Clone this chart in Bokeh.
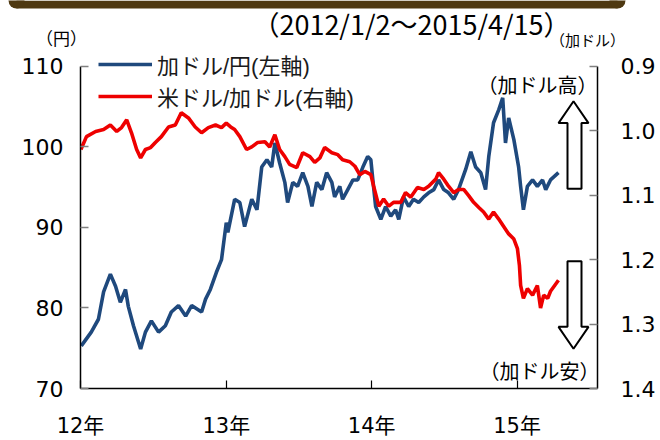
import pandas as pd
from bokeh.plotting import figure
from bokeh.layouts import column, row
from bokeh.models import (Range1d, LinearAxis, FixedTicker, Legend, LegendItem,
                          Label, ColumnDataSource, NumeralTickFormatter)
from bokeh.embed import file_html
from bokeh.resources import INLINE

# ---------------- data ----------------
cadjpy_dates = [
    "2012-01-03", "2012-01-28", "2012-02-15", "2012-02-28", "2012-03-16", "2012-03-29",
    "2012-04-10", "2012-04-23", "2012-04-30", "2012-05-13", "2012-05-31", "2012-06-12",
    "2012-06-27", "2012-07-15", "2012-08-01", "2012-08-16", "2012-09-03", "2012-09-21",
    "2012-10-06", "2012-10-31", "2012-11-10", "2012-11-22", "2012-12-07", "2012-12-20",
    "2013-01-01", "2013-01-05", "2013-01-22", "2013-02-04", "2013-02-16", "2013-03-06",
    "2013-03-19", "2013-03-31", "2013-04-13", "2013-04-25", "2013-05-03", "2013-05-15",
    "2013-05-28", "2013-06-04", "2013-06-17", "2013-06-29", "2013-07-12", "2013-07-25",
    "2013-08-04", "2013-08-16", "2013-08-29", "2013-09-10", "2013-09-23", "2013-09-30",
    "2013-10-13", "2013-10-20", "2013-11-02", "2013-11-15", "2013-11-27", "2013-12-10",
    "2013-12-22", "2013-12-30", "2014-01-04", "2014-01-11", "2014-01-24", "2014-02-05",
    "2014-02-18", "2014-03-02", "2014-03-10", "2014-03-22", "2014-04-04", "2014-04-16",
    "2014-04-29", "2014-05-12", "2014-05-24", "2014-06-06", "2014-06-18", "2014-07-01",
    "2014-07-13", "2014-07-26", "2014-08-07", "2014-08-25", "2014-09-07", "2014-09-19",
    "2014-10-02", "2014-10-14", "2014-10-22", "2014-11-03", "2014-11-16", "2014-11-26",
    "2014-12-03", "2014-12-11", "2014-12-24", "2015-01-05", "2015-01-10", "2015-01-17",
    "2015-01-27", "2015-02-09", "2015-02-21", "2015-03-06", "2015-03-14", "2015-03-26",
    "2015-04-15",
]
cadjpy_values = [
    75.3, 77.0, 78.6, 82.0, 84.2, 82.7,
    80.7, 82.3, 80.2, 77.8, 74.9, 77.0,
    78.4, 77.0, 77.8, 79.5, 80.3, 79.0,
    80.3, 79.5, 81.1, 82.3, 84.4, 86.0,
    90.6, 89.4, 93.5, 93.1, 90.1, 93.5,
    92.2, 97.5, 98.4, 97.5, 100.5, 98.0,
    95.6, 93.1, 95.6, 95.1, 96.8, 95.1,
    92.6, 95.6, 94.7, 96.8, 95.6, 93.8,
    95.1, 93.5, 94.7, 95.9, 95.9, 97.5,
    98.8, 98.4, 95.9, 92.6, 91.0, 92.6,
    91.4, 92.2, 91.0, 93.8, 92.6, 93.5,
    93.1, 93.8, 94.3, 94.7, 95.9, 94.7,
    94.3, 93.5, 94.7, 97.2, 99.4, 97.5,
    96.8, 94.7, 98.8, 103.0, 104.6, 106.1,
    100.5, 103.6, 100.9, 97.5, 95.1, 92.2,
    95.1, 95.9, 95.1, 95.9, 94.7, 95.9,
    96.8,
]

usdcad_dates = [
    "2012-01-02", "2012-01-16", "2012-02-08", "2012-02-28", "2012-03-16", "2012-04-01",
    "2012-04-13", "2012-04-26", "2012-05-08", "2012-05-21", "2012-05-31", "2012-06-12",
    "2012-06-25", "2012-07-07", "2012-07-22", "2012-08-09", "2012-08-26", "2012-09-10",
    "2012-09-28", "2012-10-15", "2012-10-31", "2012-11-17", "2012-12-05", "2012-12-20",
    "2013-01-01", "2013-01-12", "2013-01-22", "2013-02-04", "2013-02-21", "2013-03-06",
    "2013-03-21", "2013-04-08", "2013-04-20", "2013-05-03", "2013-05-15", "2013-05-28",
    "2013-06-09", "2013-06-27", "2013-07-12", "2013-07-30", "2013-08-11", "2013-08-24",
    "2013-09-05", "2013-09-23", "2013-10-08", "2013-10-20", "2013-11-07", "2013-11-20",
    "2013-12-02", "2013-12-15", "2013-12-30", "2014-01-06", "2014-01-19", "2014-01-31",
    "2014-02-13", "2014-02-25", "2014-03-15", "2014-03-27", "2014-04-09", "2014-04-26",
    "2014-05-12", "2014-05-24", "2014-06-11", "2014-06-18", "2014-07-01", "2014-07-13",
    "2014-07-26", "2014-08-07", "2014-08-20", "2014-09-02", "2014-09-14", "2014-09-27",
    "2014-10-09", "2014-10-22", "2014-11-03", "2014-11-16", "2014-11-28", "2014-12-11",
    "2014-12-24", "2015-01-02", "2015-01-07", "2015-01-10", "2015-01-17", "2015-01-27",
    "2015-02-09", "2015-02-21", "2015-03-01", "2015-03-09", "2015-03-19", "2015-03-26",
    "2015-04-15",
]
usdcad_values = [
    1.029, 1.009, 1.001, 0.998, 0.991, 1.001,
    0.995, 0.983, 1.003, 1.029, 1.042, 1.029,
    1.026, 1.018, 1.009, 0.994, 0.991, 0.972,
    0.980, 0.994, 1.003, 0.995, 0.991, 0.995,
    0.988, 0.994, 0.998, 1.009, 1.029, 1.025,
    1.018, 1.017, 1.025, 1.006, 1.029, 1.040,
    1.052, 1.057, 1.034, 1.040, 1.049, 1.042,
    1.026, 1.034, 1.037, 1.045, 1.048, 1.055,
    1.068, 1.063, 1.068, 1.086, 1.117, 1.106,
    1.117, 1.111, 1.111, 1.096, 1.103, 1.088,
    1.091, 1.086, 1.075, 1.065, 1.075, 1.086,
    1.096, 1.091, 1.091, 1.101, 1.111, 1.119,
    1.126, 1.137, 1.126, 1.137, 1.148, 1.160,
    1.168, 1.183, 1.209, 1.240, 1.260, 1.245,
    1.255, 1.240, 1.275, 1.255, 1.260, 1.249,
    1.232,
]

year_ticks = ["2012-01-01", "2013-01-01", "2014-01-01", "2015-01-01"]
year_labels = ["12年", "13年", "14年", "15年"]
yen_ticks = [70, 80, 90, 100, 110]
cad_ticks = [0.9, 1.0, 1.1, 1.2, 1.3, 1.4]
series_names = ["加ドル/円(左軸)", "米ドル/加ドル(右軸)"]
period_text = "（2012/1/2～2015/4/15）"
left_unit = "（円）"
right_unit = "（加ドル）"


def ms(s):
    return int(pd.Timestamp(s).value // 10**6)


W, H = 660, 440
HEAD = 50                       # page y where the plot box begins
FL, FR, FT, FB = 80, 597, 66, 390   # value 110..70 box on the page
X_START, X_END = ms("2012-01-01"), ms("2015-07-22")

PX_PER_YEN = (FB - FT) / 40.0
Y_TOP = 70 + (FB - HEAD) / PX_PER_YEN
CAD_TOP = 1.4 - (FB - HEAD) / (FB - FT) * 0.5


def fx(px):
    return X_START + (px - FL) / (FR - FL) * (X_END - X_START)


def fy(py):
    return 70 + (FB - py) / PX_PER_YEN


NUM_FONT = "'DejaVu Sans', 'Noto Sans CJK JP'"
JP_FONT = "'Noto Sans CJK JP'"
LEG_FONT = "'Liberation Sans', 'Noto Sans CJK JP'"
BROWN = "#4E3811"

# ---------------- header (band, period and unit labels), pixel coordinates ----
head = figure(width=W, height=HEAD, output_backend="svg", toolbar_location=None,
              x_range=Range1d(0, W), y_range=Range1d(HEAD, 0),
              x_axis_location=None, y_axis_location=None, title=None,
              min_border=0, outline_line_color=None,
              background_fill_color="white", border_fill_color="white")
head.grid.visible = False
head.quad(left=[16], right=[617], top=[0], bottom=[8], fill_color=BROWN, line_color=None)
head.circle(x=[16, 617], y=[0, 0], radius=8, fill_color=BROWN, line_color=None)


def head_text(txt, x, y, size):
    head.add_layout(Label(x=x, y=y, text=txt, text_align="center",
                          text_baseline="middle", text_font=JP_FONT,
                          text_font_size=size, text_color="black"))


head_text(period_text, 411, 23, "27px")
head_text(left_unit, 61, 37, "17px")
head_text(right_unit, 587, 38.5, "15px")

# ---------------- main chart ----------------
p = figure(width=W, height=H - HEAD, output_backend="svg", toolbar_location=None,
           x_range=Range1d(X_START, X_END), y_range=Range1d(70, Y_TOP), title=None,
           min_border_left=FL, min_border_right=W - FR, min_border_top=0,
           min_border_bottom=H - FB, outline_line_color=None,
           background_fill_color="white", border_fill_color="white")
p.grid.visible = False
p.extra_y_ranges = {"cad": Range1d(1.4, CAD_TOP)}

src_b = ColumnDataSource(dict(x=[ms(d) for d in cadjpy_dates], y=cadjpy_values))
src_r = ColumnDataSource(dict(x=[ms(d) for d in usdcad_dates], y=usdcad_values))
r_b = p.line("x", "y", source=src_b, line_color="#1F497D", line_width=3.6)
r_r = p.line("x", "y", source=src_r, line_color="#EE0000", line_width=3.6,
             y_range_name="cad")

xa = p.xaxis[0]
xa.ticker = FixedTicker(ticks=[ms(d) for d in year_ticks])
xa.major_label_overrides = {ms(d): lab for d, lab in zip(year_ticks, year_labels)}
xa.major_tick_line_color = "black"
xa.major_tick_line_width = 1.2

ya = p.yaxis[0]
ya.ticker = FixedTicker(ticks=yen_ticks)
ya.bounds = (70, 110)
ya.major_tick_line_color = "#808080"
ya.major_tick_line_width = 1.5
ya.major_label_standoff = 17

ra = LinearAxis(y_range_name="cad", ticker=FixedTicker(ticks=cad_ticks),
                formatter=NumeralTickFormatter(format="0.0"), bounds=(0.9, 1.4))
ra.major_tick_line_color = "#808080"
ra.major_tick_line_width = 1.5
ra.major_label_standoff = 23
p.add_layout(ra, "right")

for ax in (xa, ya, ra):
    ax.minor_tick_line_color = None
    ax.major_tick_in = 8
    ax.major_tick_out = 0
    ax.axis_line_width = 1.5
    ax.axis_line_color = "black"
    ax.major_label_text_font = NUM_FONT
    ax.major_label_text_font_size = "22px"
    ax.major_label_text_color = "black"

# the year labels: slightly smaller so they can sit lower under the axis
xa.major_label_text_font_size = "21px"
xa.major_label_standoff = 25

frame_h = FB - HEAD
ROW, GAP = 32, 0
legend = Legend(items=[LegendItem(label=series_names[0], renderers=[r_b]),
                       LegendItem(label=series_names[1], renderers=[r_r])],
                location=(18, frame_h - (2 * ROW + GAP)), padding=0, margin=0,
                spacing=GAP, label_height=ROW, glyph_height=ROW, glyph_width=54,
                label_standoff=5, border_line_color=None,
                background_fill_alpha=0, label_text_font=LEG_FONT,
                label_text_font_size="22px", label_text_color="#1a1a1a")
p.add_layout(legend)

# hollow block arrows (decoration)
up = [(573, 101), (588, 123), (581, 123), (581, 189), (567, 189), (567, 123), (558, 123)]
down = [(567, 262), (581, 262), (581, 328), (588, 328), (573, 350), (558, 328), (567, 328)]
for shape in (up, down):
    p.patch([fx(a) for a, b in shape], [fy(b) for a, b in shape],
            fill_color="white", line_color="black", line_width=2)


def main_text(txt, px, py, size):
    p.add_layout(Label(x=fx(px), y=fy(py), text=txt, text_align="center",
                       text_baseline="middle", text_font=JP_FONT,
                       text_font_size=size, text_color="black"))


main_text("（加ドル高）", 537, 84, "20px")
main_text("（加ドル安）", 539, 372, "20px")

layout = column(row(head), p, spacing=0)
open("out.html", "w").write(file_html(layout, INLINE))
